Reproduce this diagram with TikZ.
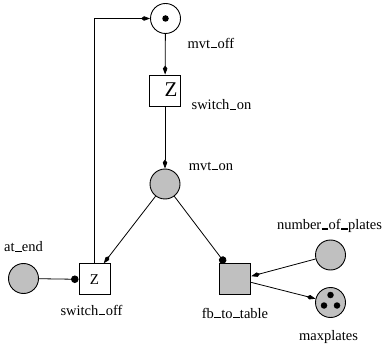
\documentclass[tikz,border=0pt]{standalone}
\usepackage{fontspec}
\setmainfont{Liberation Serif}
\usetikzlibrary{arrows.meta}
\newcommand{\us}{\kern0.03em\rule{0.45em}{0.09em}\kern0.03em}
\definecolor{placegray}{RGB}{192,192,192}
\tikzset{
  place/.style={circle,draw,line width=0.9pt,minimum size=30pt,inner sep=0pt},
  gplace/.style={place,fill=placegray},
  trans/.style={rectangle,draw,line width=0.9pt,minimum size=31pt,inner sep=0pt,font=\fontsize{15}{15}\selectfont},
  tok/.style={circle,fill=black,minimum size=6.5pt,inner sep=0pt},
  lbl/.style={font=\fontsize{14.5}{15}\selectfont,inner sep=0pt},
  arc/.style={line width=0.8pt,-{Kite[length=9pt,width=4.5pt,inset=3pt]}},
  rarc/.style={line width=0.8pt,-{Circle[length=7.5pt]}}
}
\begin{document}
\begin{tikzpicture}[x=1pt,y=-1pt]
\useasboundingbox (0,0) rectangle (385,347);
% places
\node[place] (mvtoff) at (165.5,18.5) {};
\node[tok] (mvtofftok) at (mvtoff.center) {};
\node[gplace] (mvton) at (165,184) {};
\node[gplace] (atend) at (23.5,278.5) {};
\node[gplace] (nop) at (330.5,255) {};
\node[gplace] (maxp) at (330.5,302.5) {};
\node[tok] (mt1) at (330.5,295) {};
\node[tok] (mt2) at (324,305.5) {};
\node[tok] (mt3) at (337,305.5) {};
% transitions
\node[trans] (swon) at (165,90.5) {};
\node[font=\fontsize{21}{21}\selectfont,inner sep=0pt] (swonz) at (171,89.5) {Z};
\node[trans] (swoff) at (94.5,279.3) {Z};
\node[trans,fill=placegray] (fb) at (235.3,279) {};
% labels
\node[lbl] (lmvtoff) at (211,43) {mvt\us off};
\node[lbl] (lswon) at (221.5,105) {switch\us on};
\node[lbl] (lmvton) at (211,166) {mvt\us on};
\node[lbl] (latend) at (23.5,247) {at\us end};
\node[lbl] (lswoff) at (91.5,310) {switch\us off};
\node[lbl] (lfb) at (235,313) {fb\us to\us table};
\node[lbl] (lnop) at (329.5,226) {number\us of\us plates};
\node[lbl] (lmaxp) at (328.5,337) {maxplates};
% arcs
\draw[arc] (mvtoff) -- (swon);
\draw[arc] (swon) -- (mvton);
\draw[arc] (swoff.north) -- (swoff.north |- mvtoff.west) -- (mvtoff.west);
\draw[arc] (mvton) -- (swoff.60);
\draw[rarc] (atend) -- (swoff.west);
\draw[rarc] (mvton) -- (fb.123);
\draw[arc] (nop) -- (fb.10);
\draw[arc] (fb.-12) -- (maxp);
\end{tikzpicture}
\end{document}
